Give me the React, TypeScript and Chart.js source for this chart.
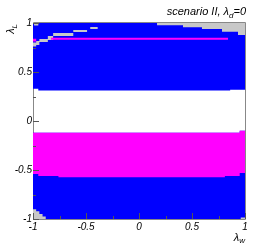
import React, { useEffect, useRef } from "react";
import { Chart, registerables } from "chart.js";

Chart.register(...registerables);

// Axis ticks
const tickValues = [-1, -0.75, -0.5, -0.25, 0, 0.25, 0.5, 0.75, 1];
const xTickLabels = ["-1", "", "-0.5", "", "0", "", "0.5", "", "1"];
const yTickLabels = ["-1", "", "-0.5", "", "0", "", "0.5", "", "1"];

// Upper blue region (lambda_L from lower edge up to 1)
const topBlueEdges = [-1, -0.95, 0.86, 1];
const topBlueLow = [0.33, 0.31, 0.32];
const topBlueHigh = [1, 1, 1];

// Magenta band and lower blue region
const midEdges = [-1, -0.95, -0.76, 0.81, 0.95, 1];
const magentaHigh = [-0.12, -0.12, -0.12, -0.12, -0.1];
const magentaLow = [-0.54, -0.56, -0.575, -0.56, -0.53];
const bottomBlueLow = [-1, -1, -1, -1, -1];

// Grey (excluded) patches
const grayTopRightEdges = [0.17, 0.415, 0.594, 0.783, 0.934, 1];
const grayTopRightLow = [0.977, 0.957, 0.939, 0.911, 0.878];
const grayTopRightHigh = [1, 1, 1, 1, 1];

const grayStripEdges = [-1, -0.97, -0.94, -0.86, -0.81, -0.62, -0.49];
const grayStripLow = [0.76, 0.776, 0.806, 0.827, 0.867, 0.908];
const grayStripHigh = [0.8, 0.816, 0.837, 0.867, 0.898, 0.929];

const grayIslandEdges = [-0.46, -0.39];
const grayIslandLow = [0.939];
const grayIslandHigh = [0.959];

const grayCornerEdges = [-0.99, -0.95];
const grayCornerLow = [0.975];
const grayCornerHigh = [1];

const grayBottomLeftEdges = [-1, -0.97, -0.94, -0.91, -0.88];
const grayBottomLeftLow = [-1, -1, -1, -1];
const grayBottomLeftHigh = [-0.9, -0.92, -0.95, -0.975];

const grayBottomRightEdges = [0.96, 1];
const grayBottomRightLow = [-1];
const grayBottomRightHigh = [-0.985];

// Magenta thin line
const magLineEdges = [-0.83, 0.84];
const magLineLow = [0.83];
const magLineHigh = [0.85];
const magDotEdges = [-1, -0.97];
const magDotLow = [0.81];
const magDotHigh = [0.84];

const BLUE = "#0000ff";
const MAGENTA = "#ff00ff";
const GRAY = "#c8c8c8";

function band(edges: number[], low: number[], high: number[]) {
  const pts: { x: number; y: number }[] = [];
  for (let i = 0; i < edges.length - 1; i++) {
    pts.push({ x: edges[i], y: high[i] });
    pts.push({ x: edges[i + 1], y: high[i] });
  }
  for (let i = edges.length - 2; i >= 0; i--) {
    pts.push({ x: edges[i + 1], y: low[i] });
    pts.push({ x: edges[i], y: low[i] });
  }
  return pts;
}

function region(data: { x: number; y: number }[], color: string) {
  return {
    data,
    showLine: true,
    fill: "shape",
    backgroundColor: color,
    borderColor: color,
    borderWidth: 0,
    pointRadius: 0,
    pointHoverRadius: 0,
    tension: 0,
  };
}

const FONT = '"Liberation Sans", Arial, Helvetica, sans-serif';

const rootAxes = {
  id: "rootAxes",
  beforeDraw(chart: any) {
    const { ctx, chartArea: a } = chart;
    ctx.save();
    ctx.strokeStyle = "#888888";
    ctx.lineWidth = 1;
    ctx.beginPath();
    ctx.rect(a.left + 0.5, a.top - 0.5, a.right - a.left, a.bottom - a.top + 1);
    ctx.stroke();
    ctx.restore();
  },
  afterDatasetsDraw(chart: any) {
    const { ctx, chartArea: a, scales } = chart;
    const xs = scales.x;
    const ys = scales.y;
    ctx.save();
    ctx.strokeStyle = "#555555";
    ctx.lineWidth = 1;
    ctx.beginPath();
    tickValues.forEach((v, i) => {
      const len = xTickLabels[i] ? 6 : 3;
      const px = Math.round(xs.getPixelForValue(v)) + 0.5;
      ctx.moveTo(px, a.bottom);
      ctx.lineTo(px, a.bottom - len);
      const ylen = yTickLabels[i] ? 6 : 3;
      const py = Math.round(ys.getPixelForValue(v)) + 0.5;
      ctx.moveTo(a.left, py);
      ctx.lineTo(a.left + ylen, py);
    });
    ctx.stroke();

    ctx.fillStyle = "#000000";
    ctx.font = "italic 10px " + FONT;
    ctx.textBaseline = "middle";
    ctx.textAlign = "center";
    tickValues.forEach((v, i) => {
      if (xTickLabels[i]) ctx.fillText(xTickLabels[i], xs.getPixelForValue(v), a.bottom + 8);
    });
    ctx.textAlign = "right";
    tickValues.forEach((v, i) => {
      if (yTickLabels[i]) ctx.fillText(yTickLabels[i], a.left - 1, ys.getPixelForValue(v) + 0.5);
    });

    // Title
    ctx.textBaseline = "alphabetic";
    ctx.textAlign = "left";
    const mainFont = "italic 11px " + FONT;
    const subFont = "italic 8px " + FONT;
    const t1 = "scenario II, \u03bb";
    const t2 = "d";
    const t3 = "=0";
    ctx.font = mainFont;
    const w1 = ctx.measureText(t1).width;
    const w3 = ctx.measureText(t3).width;
    ctx.font = subFont;
    const w2 = ctx.measureText(t2).width;
    let tx = 246 - (w1 + w2 + w3);
    const ty = 15;
    ctx.font = mainFont;
    ctx.fillText(t1, tx, ty);
    tx += w1;
    ctx.font = subFont;
    ctx.fillText(t2, tx, ty + 3);
    tx += w2;
    ctx.font = mainFont;
    ctx.fillText(t3, tx, ty);

    // X axis title
    ctx.font = mainFont;
    const lw = ctx.measureText("\u03bb").width;
    ctx.font = subFont;
    const ww = ctx.measureText("w").width;
    const xx = a.right - (lw + ww);
    ctx.font = mainFont;
    ctx.fillText("\u03bb", xx, 241);
    ctx.font = subFont;
    ctx.fillText("w", xx + lw, 243);

    // Y axis title (rotated)
    ctx.translate(13.5, a.top + 1);
    ctx.rotate(-Math.PI / 2);
    ctx.font = mainFont;
    const lw2 = ctx.measureText("\u03bb").width;
    ctx.font = subFont;
    const lL = ctx.measureText("L").width;
    const sx = -(lw2 + lL);
    ctx.font = mainFont;
    ctx.fillText("\u03bb", sx, 0);
    ctx.font = subFont;
    ctx.fillText("L", sx + lw2, 3);
    ctx.restore();
  },
};

export default function App() {
  const ref = useRef<HTMLCanvasElement | null>(null);
  useEffect(() => {
    if (!ref.current) return;
    // Listed bottom layer first; reversed because Chart.js paints dataset 0 on top.
    const layers = [
      region(band(topBlueEdges, topBlueLow, topBlueHigh), BLUE),
      region(band(midEdges, bottomBlueLow, magentaHigh), BLUE),
      region(band(midEdges, magentaLow, magentaHigh), MAGENTA),
      region(band(grayTopRightEdges, grayTopRightLow, grayTopRightHigh), GRAY),
      region(band(grayStripEdges, grayStripLow, grayStripHigh), GRAY),
      region(band(grayIslandEdges, grayIslandLow, grayIslandHigh), GRAY),
      region(band(grayCornerEdges, grayCornerLow, grayCornerHigh), GRAY),
      region(band(grayBottomLeftEdges, grayBottomLeftLow, grayBottomLeftHigh), GRAY),
      region(band(grayBottomRightEdges, grayBottomRightLow, grayBottomRightHigh), GRAY),
      region(band(magLineEdges, magLineLow, magLineHigh), MAGENTA),
      region(band(magDotEdges, magDotLow, magDotHigh), MAGENTA),
    ];
    const datasets = layers.slice().reverse();
    const chart = new Chart(ref.current, {
      type: "scatter",
      data: { datasets: datasets as any },
      options: {
        animation: false,
        responsive: false,
        devicePixelRatio: 1,
        layout: { padding: { left: 33, right: 13, top: 23, bottom: 26 } },
        scales: {
          x: { type: "linear", min: -1, max: 1, display: false },
          y: { type: "linear", min: -1, max: 1, display: false },
        },
        plugins: {
          legend: { display: false },
          tooltip: { enabled: false },
          filler: { propagate: false },
        },
        events: [],
      } as any,
      plugins: [rootAxes],
    });
    return () => chart.destroy();
  }, []);
  return (
    <div style={{ position: "absolute", left: 0, top: 0, width: 258, height: 245, background: "#fff" }}>
      <canvas ref={ref} width={258} height={245} style={{ width: 258, height: 245, display: "block" }} />
    </div>
  );
}
